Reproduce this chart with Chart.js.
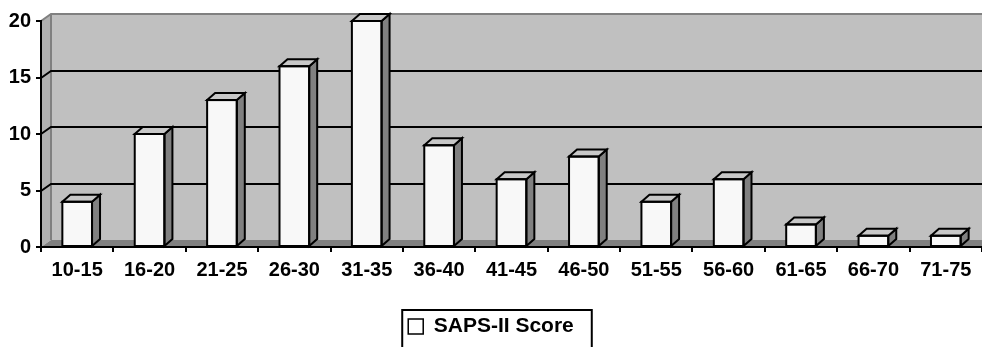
<!DOCTYPE html>
<html>
<head>
<meta charset="utf-8">
<script src="https://cdn.jsdelivr.net/npm/chart.js@4"></script>
<style>
html,body{margin:0;padding:0;background:#fff;}
#wrap{width:982px;height:347px;position:relative;}
</style>
</head>
<body>
<div id="wrap"><canvas id="c" width="982" height="347"></canvas></div>
<script>
const categories = ['10-15','16-20','21-25','26-30','31-35','36-40','41-45','46-50','51-55','56-60','61-65','66-70','71-75'];
const scoreValues = [4,10,13,16,20,9,6,8,4,6,2,1,1];
const seriesName = 'SAPS-II Score';
const yTicks = [0,5,10,15,20];

const WALL_DX = 10, WALL_DY = -7;
const BAR_DX = 8, BAR_DY = -7;
const AREA_BOTTOM = 247;

const threeD = {
  id: 'threeD',
  beforeDraw(chart) {
    const ctx = chart.ctx;
    const a = chart.chartArea;
    const y = chart.scales.y;
    const top = y.getPixelForValue(20);
    const bot = y.getPixelForValue(0);
    const L = a.left, R = chart.width + 20;
    ctx.save();
    ctx.fillStyle = '#c0c0c0';
    ctx.fillRect(L + WALL_DX, top + WALL_DY, R, bot - top);
    ctx.fillStyle = '#b0b0b0';
    ctx.beginPath();
    ctx.moveTo(L, top); ctx.lineTo(L + WALL_DX, top + WALL_DY);
    ctx.lineTo(L + WALL_DX, bot + WALL_DY); ctx.lineTo(L, bot); ctx.closePath();
    ctx.fill();
    ctx.fillStyle = '#808080';
    ctx.beginPath();
    ctx.moveTo(L, bot); ctx.lineTo(L + WALL_DX, bot + WALL_DY);
    ctx.lineTo(R, bot + WALL_DY); ctx.lineTo(R, bot); ctx.closePath();
    ctx.fill();
    ctx.strokeStyle = '#808080';
    ctx.lineWidth = 2;
    ctx.beginPath();
    ctx.moveTo(L, top); ctx.lineTo(L + WALL_DX, top + WALL_DY); ctx.lineTo(R, top + WALL_DY);
    ctx.moveTo(L + WALL_DX, top + WALL_DY); ctx.lineTo(L + WALL_DX, bot + WALL_DY);
    ctx.stroke();
    ctx.strokeStyle = '#000';
    ctx.lineWidth = 2;
    ctx.beginPath();
    yTicks.forEach(v => {
      if (v === 0 || v === 20) return;
      const py = Math.round(y.getPixelForValue(v));
      ctx.moveTo(L, py); ctx.lineTo(L + WALL_DX, py + WALL_DY); ctx.lineTo(R, py + WALL_DY);
    });
    ctx.stroke();
    ctx.restore();
  },
  afterDatasetsDraw(chart) {
    const ctx = chart.ctx;
    const meta = chart.getDatasetMeta(0);
    ctx.save();
    ctx.lineWidth = 2;
    ctx.strokeStyle = '#000';
    meta.data.forEach(bar => {
      const p = bar.getProps(['x','y','base','width'], true);
      const x1 = p.x - p.width / 2, x2 = p.x + p.width / 2;
      const t = p.y, b = p.base;
      ctx.fillStyle = '#808080';
      ctx.beginPath();
      ctx.moveTo(x2, t); ctx.lineTo(x2 + BAR_DX, t + BAR_DY);
      ctx.lineTo(x2 + BAR_DX, b + BAR_DY); ctx.lineTo(x2, b); ctx.closePath();
      ctx.fill(); ctx.stroke();
      ctx.fillStyle = '#c8c8c8';
      ctx.beginPath();
      ctx.moveTo(x1, t); ctx.lineTo(x1 + BAR_DX, t + BAR_DY);
      ctx.lineTo(x2 + BAR_DX, t + BAR_DY); ctx.lineTo(x2, t); ctx.closePath();
      ctx.fill(); ctx.stroke();
      ctx.strokeRect(x1, t, p.width, b - t);
    });
    ctx.restore();
  },
  afterDraw(chart) {
    const lg = chart.legend;
    if (!lg || !lg.legendHitBoxes || !lg.legendHitBoxes.length) return;
    const h = lg.legendHitBoxes[0];
    const ctx = chart.ctx;
    ctx.save();
    ctx.strokeStyle = '#000';
    ctx.lineWidth = 2;
    ctx.strokeRect(h.left - 6, h.top - 6, h.width + 24, 80);
    ctx.restore();
  }
};

const font = { family: "'Liberation Sans', Arial, sans-serif", size: 20, weight: 'bold' };
const legendFont = { family: "'Liberation Sans', Arial, sans-serif", size: 21, weight: 'bold' };

new Chart(document.getElementById('c'), {
  type: 'bar',
  data: {
    labels: categories,
    datasets: [{
      label: seriesName,
      data: scoreValues,
      backgroundColor: '#f8f8f8',
      borderColor: '#000',
      borderWidth: 0,
      categoryPercentage: 1,
      barPercentage: 0.41
    }]
  },
  options: {
    responsive: false,
    animation: false,
    events: [],
    layout: { padding: { top: 21, right: 0, left: 0, bottom: 0 } },
    plugins: {
      legend: {
        position: 'bottom',
        labels: {
          color: '#000',
          font: legendFont,
          boxWidth: 15,
          boxHeight: 15,
          padding: 9,
          generateLabels: (chart) => [{
            text: seriesName, fillStyle: '#fff', strokeStyle: '#000', lineWidth: 1.5,
            hidden: false, datasetIndex: 0
          }]
        }
      },
      tooltip: { enabled: false }
    },
    scales: {
      x: {
        afterFit: s => {
          const lh = (s.chart.legend && s.chart.legend.height) ? s.chart.legend.height : 40;
          s.height = 347 - AREA_BOTTOM - lh;
        },
        grid: { display: true, drawOnChartArea: false, drawTicks: true, tickLength: 5, color: '#000', lineWidth: 2, offset: true },
        border: { display: true, color: '#000', width: 2 },
        ticks: { color: '#000', font: font, padding: 6, maxRotation: 0, autoSkip: false }
      },
      y: {
        min: 0, max: 20,
        afterFit: s => { s.width = 41; },
        afterBuildTicks: s => { s.ticks = yTicks.map(v => ({ value: v })); },
        grid: { display: true, drawOnChartArea: false, drawTicks: true, tickLength: 5, color: '#000', lineWidth: 2 },
        border: { display: true, color: '#000', width: 2 },
        ticks: { color: '#000', font: font, padding: 5 }
      }
    }
  },
  plugins: [threeD]
});
</script>
</body>
</html>
